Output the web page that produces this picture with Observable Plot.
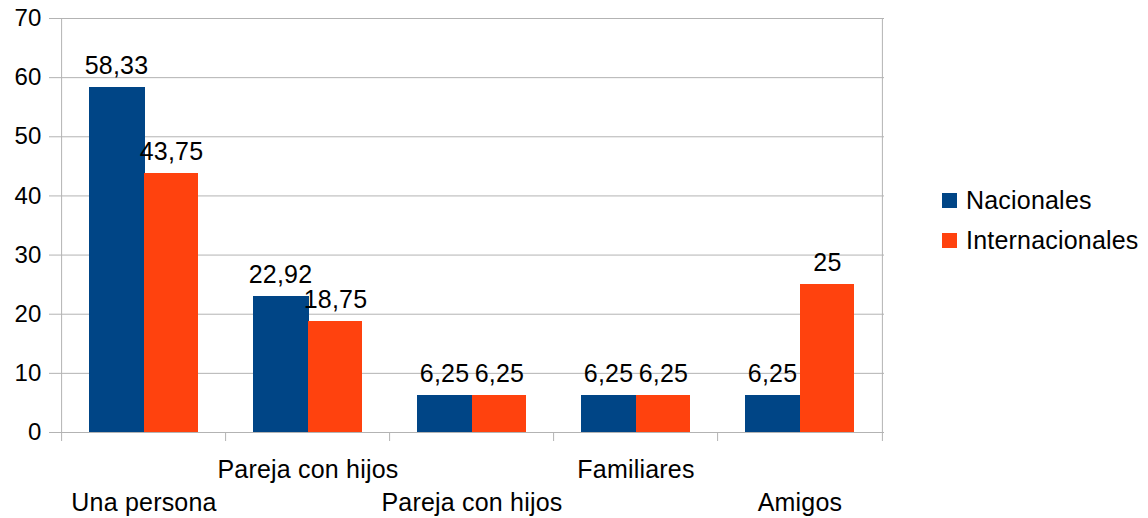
<!DOCTYPE html>
<html>
<head>
<meta charset="utf-8">
<script src="https://cdn.jsdelivr.net/npm/d3@7"></script>
<script src="https://cdn.jsdelivr.net/npm/@observablehq/plot@0.6"></script>
<style>
  html, body { margin: 0; padding: 0; background: white; }
  #wrap { position: relative; width: 1148px; height: 518px; font-family: "Liberation Sans", Arial, sans-serif; }
  #legend { position: absolute; left: 942px; top: 180px; }
  .row { display: flex; align-items: center; height: 40px; font-size: 25px; color: black; letter-spacing: 0.2px; }
  .sw { width: 15px; height: 15px; margin-right: 9px; }
</style>
</head>
<body>
<div id="wrap"><div id="legend"></div></div>
<script>
const categories = ["Una persona", "Pareja con hijos", "Pareja con hijos", "Familiares", "Amigos"];
const nacionales = [58.33, 22.92, 6.25, 6.25, 6.25];
const internacionales = [43.75, 18.75, 6.25, 6.25, 25];
const seriesNames = ["Nacionales", "Internacionales"];
const seriesColors = ["#004586", "#ff420e"];
const yTicks = [0, 10, 20, 30, 40, 50, 60, 70];

const W = 1148, H = 518;
const mL = 60, mR = 264, mT = 18, mB = 86;
const n = categories.length;
const step = (W - mL - mR) / n;
const bw = step * 2 / 3;
const plotH = H - mT - mB;
const grid = "#b3b3b3";
const fmt = v => String(v).replace(".", ",");

const rows = categories.map((c, i) => ({
  key: String(i), label: c, nac: nacionales[i], int: internacionales[i], upper: i % 2 === 1
}));

const chart = Plot.plot({
  width: W, height: H,
  marginLeft: mL, marginRight: mR, marginTop: mT, marginBottom: mB,
  style: {fontFamily: '"Liberation Sans", Arial, sans-serif', fontSize: "25px", color: "black", background: "white", overflow: "visible", letterSpacing: "0.2px"},
  x: {domain: rows.map(d => d.key), paddingInner: 1/3, paddingOuter: 1/6, axis: null},
  y: {domain: [0, 70], axis: null},
  marks: [
    Plot.gridY(yTicks, {stroke: grid, strokeOpacity: 1}),
    Plot.axisY(yTicks, {tickSize: 11, tickPadding: 8, stroke: grid, fill: "black", fontSize: 24, label: null, tickFormat: d => String(d)}),
    Plot.ruleX([rows[0]], {x: "key", dx: -step / 2, stroke: grid, insetBottom: -9}),
    Plot.ruleX([rows[n - 1]], {x: "key", dx: step / 2, stroke: grid, insetBottom: -9}),
    Plot.ruleX(rows.slice(1), {x: "key", dx: -step / 2, stroke: grid, insetTop: plotH, insetBottom: -9}),
    Plot.barY(rows, {x: "key", y: "nac", fill: seriesColors[0], insetRight: bw / 2 - 1.5, shapeRendering: "crispEdges"}),
    Plot.barY(rows, {x: "key", y: "int", fill: seriesColors[1], insetLeft: bw / 2, shapeRendering: "crispEdges"}),
    Plot.text(rows, {x: "key", y: "nac", text: d => fmt(d.nac), dx: -bw / 4, dy: -14, lineAnchor: "bottom", fontSize: 25, fill: "black"}),
    Plot.text(rows, {x: "key", y: "int", text: d => fmt(d.int), dx: bw / 4, dy: -14, lineAnchor: "bottom", fontSize: 25, fill: "black"}),
    Plot.text(rows.filter(d => d.upper), {x: "key", frameAnchor: "bottom", text: "label", dy: 45, lineAnchor: "bottom", fontSize: 25, fill: "black"}),
    Plot.text(rows.filter(d => !d.upper), {x: "key", frameAnchor: "bottom", text: "label", dy: 78, lineAnchor: "bottom", fontSize: 25, fill: "black"})
  ]
});

const wrap = document.getElementById("wrap");
wrap.insertBefore(chart, wrap.firstChild);
const legend = document.getElementById("legend");
seriesNames.forEach((s, i) => {
  const r = document.createElement("div");
  r.className = "row";
  const sw = document.createElement("div");
  sw.className = "sw";
  sw.style.background = seriesColors[i];
  const t = document.createElement("span");
  t.textContent = s;
  r.appendChild(sw); r.appendChild(t);
  legend.appendChild(r);
});
</script>
</body>
</html>
